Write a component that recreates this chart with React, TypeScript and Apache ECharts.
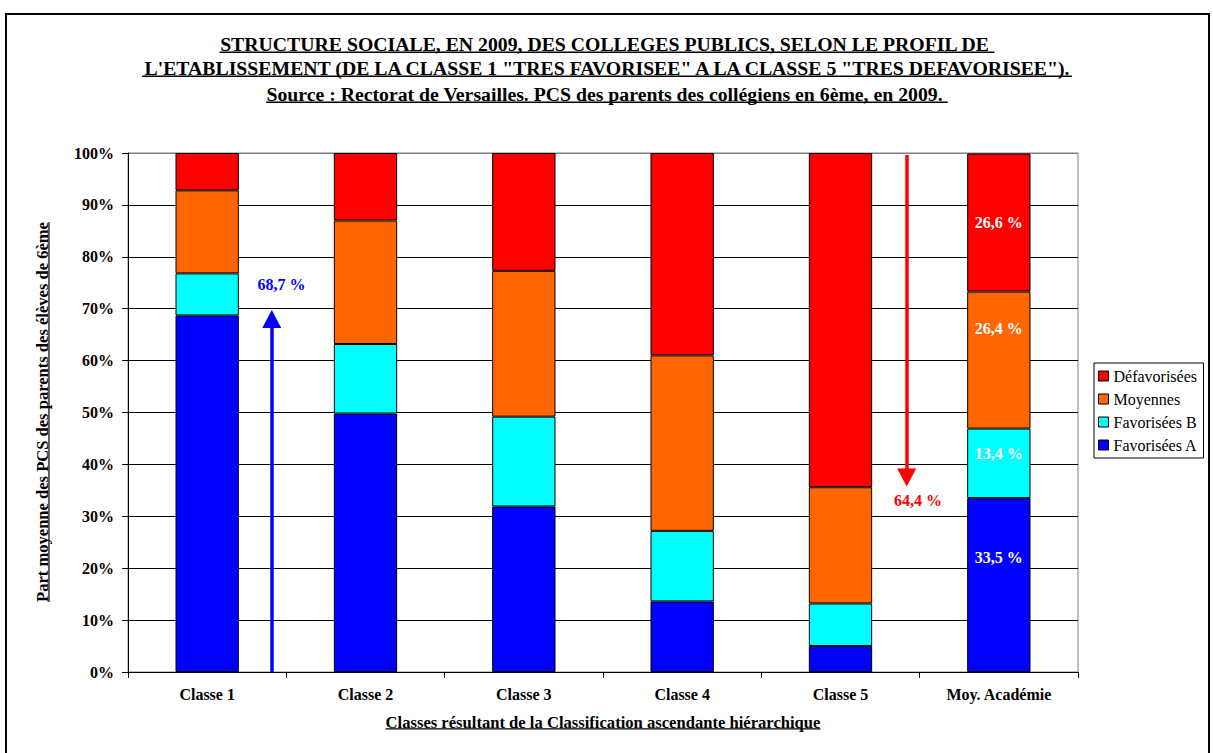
import React, { useEffect, useRef } from "react";
import * as echarts from "echarts";

const categories = ["Classe 1", "Classe 2", "Classe 3", "Classe 4", "Classe 5", "Moy. Académie"];
const seriesNames = ["Favorisées A", "Favorisées B", "Moyennes", "Défavorisées"];
const favA = [68.7, 49.8, 31.9, 13.6, 5.0, 33.5];
const favB = [8.1, 13.4, 17.3, 13.6, 8.2, 13.4];
const moyennes = [16.0, 23.8, 28.1, 33.8, 22.4, 26.4];
const defav = [7.2, 13.0, 22.7, 39.0, 64.4, 26.6];
const colors = ["#0000FF", "#00FFFF", "#FF6600", "#FF0000"];
const legendOrder = ["Défavorisées", "Moyennes", "Favorisées B", "Favorisées A"];

const titleLines = [
  "STRUCTURE SOCIALE, EN 2009, DES COLLEGES PUBLICS, SELON LE PROFIL DE ",
  "L'ETABLISSEMENT (DE LA CLASSE 1 \"TRES FAVORISEE\" A LA CLASSE 5 \"TRES DEFAVORISEE\").",
  "Source : Rectorat de Versailles. PCS des parents des collégiens en 6ème, en 2009. ",
];
const yAxisTitle = "Part moyenne des PCS des parents des élèves de 6ème";
const xAxisTitle = "Classes résultant de la Classification ascendante hiérarchique";

// annotation arrows (positions in category units 0..6 and percent)
const blueArrow = { x: 0.908, from: 0, to: 68.0 };
const redArrow = { x: 4.918, from: 99.6, to: 37.5 };
const blueLabelPos = [0.97, 74.6];
const redLabelPos = [4.99, 33.1];

const FONT = "'Liberation Serif', 'Times New Roman', serif";

const fmt = (v: number) => v.toFixed(1).replace(".", ",") + " %";

function measure(text: string, font: string) {
  const c = document.createElement("canvas").getContext("2d")!;
  c.font = font;
  return c.measureText(text).width;
}

export default function App() {
  const ref = useRef<HTMLDivElement>(null);
  useEffect(() => {
    if (!ref.current) return;
    const chart = echarts.init(ref.current, undefined, { renderer: "svg" });

    // title sizing
    const titleSize = (100 * 930) / measure(titleLines[1], `bold 100px ${FONT}`);
    const titleCenters = [44, 68, 94];
    const titleX = 607;
    const graphics: any[] = [];
    graphics.push({
      type: "rect",
      shape: { x: 6, y: 14, width: 1203, height: 800 },
      style: { fill: "none", stroke: "#000", lineWidth: 2 },
      silent: true,
    });
    titleLines.forEach((t, i) => {
      const w = measure(t, `bold ${titleSize}px ${FONT}`);
      graphics.push({
        type: "text",
        x: titleX,
        y: titleCenters[i],
        style: {
          text: t,
          fontSize: titleSize,
          fontWeight: "bold",
          fontFamily: FONT,
          fill: "#000",
          align: "center",
          verticalAlign: "middle",
        },
      });
      const uy = titleCenters[i] + titleSize * 0.42;
      graphics.push({
        type: "line",
        shape: { x1: titleX - w / 2, y1: uy, x2: titleX + w / 2, y2: uy },
        style: { stroke: "#000", lineWidth: 1.5 },
      });
    });

    // y axis title
    const ySize = (100 * 380) / measure(yAxisTitle, `bold 100px ${FONT}`);
    const yw = measure(yAxisTitle, `bold ${ySize}px ${FONT}`);
    graphics.push({
      type: "group",
      x: 42,
      y: 412,
      rotation: Math.PI / 2,
      children: [
        {
          type: "text",
          style: {
            text: yAxisTitle,
            fontSize: ySize,
            fontWeight: "bold",
            fontFamily: FONT,
            fill: "#000",
            align: "center",
            verticalAlign: "middle",
          },
        },
        {
          type: "line",
          shape: { x1: -yw / 2, y1: ySize * 0.42, x2: yw / 2, y2: ySize * 0.42 },
          style: { stroke: "#000", lineWidth: 1.2 },
        },
      ],
    });

    // x axis title
    const xSize = (100 * 435) / measure(xAxisTitle, `bold 100px ${FONT}`);
    const xw = measure(xAxisTitle, `bold ${xSize}px ${FONT}`);
    graphics.push({
      type: "text",
      x: 603,
      y: 722,
      style: {
        text: xAxisTitle,
        fontSize: xSize,
        fontWeight: "bold",
        fontFamily: FONT,
        fill: "#000",
        align: "center",
        verticalAlign: "middle",
      },
    });
    graphics.push({
      type: "line",
      shape: { x1: 603 - xw / 2, y1: 722 + xSize * 0.42, x2: 603 + xw / 2, y2: 722 + xSize * 0.42 },
      style: { stroke: "#000", lineWidth: 1.2 },
    });

    const labelOffsets = [-28, -10, -32, 0];
    const valueSets = [favA, favB, moyennes, defav];
    const barSeries = valueSets.map((vals, si) => ({
      name: seriesNames[si],
      type: "bar",
      stack: "total",
      barWidth: "40%",
      xAxisIndex: 0,
      yAxisIndex: 0,
      itemStyle: { color: colors[si], borderColor: "#000", borderWidth: 1 },
      label: {
        show: false,
        position: "inside",
        color: "#fff",
        fontWeight: "bold",
        fontSize: 16,
        fontFamily: FONT,
        formatter: (p: any) => fmt(p.value),
      },
      data: vals.map((v, i) =>
        i === vals.length - 1 ? { value: v, label: { show: true, offset: [0, labelOffsets[si]] } } : v
      ),
    }));

    const splitColors = Array.from({ length: 11 }, (_, i) => (i === 10 ? "#808080" : "#000"));

    chart.setOption({
      animation: false,
      backgroundColor: "#fff",
      grid: {
        left: 128,
        top: 153,
        right: 135,
        bottom: 81,
        show: true,
        borderColor: "#808080",
        borderWidth: 1,
        backgroundColor: "#fff",
      },
      legend: {
        orient: "vertical",
        left: 1094,
        top: 363,
        data: legendOrder,
        padding: [5, 6, 5, 4],
        itemWidth: 10,
        itemHeight: 10,
        itemGap: 7,
        borderColor: "#000",
        borderWidth: 1,
        backgroundColor: "#fff",
        itemStyle: { borderColor: "#000", borderWidth: 1 },
        textStyle: { fontSize: 16, fontFamily: FONT, color: "#000" },
        icon: "rect",
      },
      xAxis: [
        {
          type: "category",
          data: categories,
          axisLine: { lineStyle: { color: "#000", width: 1 } },
          axisTick: { show: true, length: 6, inside: false, lineStyle: { color: "#000" } },
          axisLabel: { fontSize: 16, fontWeight: "bold", fontFamily: FONT, color: "#000", margin: 14 },
          splitLine: { show: false },
        },
        { type: "value", min: 0, max: 6, show: false },
      ],
      yAxis: {
        type: "value",
        min: 0,
        max: 100,
        interval: 10,
        axisLine: { show: true, lineStyle: { color: "#000", width: 1 } },
        axisTick: { show: true, length: 6, lineStyle: { color: "#000" } },
        axisLabel: {
          formatter: "{value}%",
          fontSize: 16,
          fontWeight: "bold",
          fontFamily: FONT,
          color: "#000",
          margin: 14,
        },
        splitLine: { show: true, lineStyle: { color: splitColors, width: 1 } },
      },
      series: [
        ...barSeries,
        {
          name: "annotations",
          type: "scatter",
          xAxisIndex: 1,
          yAxisIndex: 0,
          symbolSize: 0,
          silent: true,
          itemStyle: { opacity: 1, color: "rgba(0,0,0,0)" },
          label: {
            show: true,
            position: "inside",
            fontWeight: "bold",
            fontSize: 16,
            fontFamily: FONT,
            opacity: 1,
            formatter: (p: any) => p.name,
          },
          data: [
            { name: fmt(favA[0]), value: blueLabelPos, label: { color: "#0000FF" } },
            { name: fmt(defav[4]), value: redLabelPos, label: { color: "#FF0000" } },
          ],
          markLine: {
            silent: true,
            symbol: ["none", "triangle"],
            symbolSize: [19, 18],
            label: { show: false },
            data: [
              [
                { coord: [blueArrow.x, blueArrow.from], lineStyle: { color: "#0000FF", width: 3.5, type: "solid", opacity: 1 } },
                { coord: [blueArrow.x, blueArrow.to] },
              ],
              [
                { coord: [redArrow.x, redArrow.from], lineStyle: { color: "#FF0000", width: 3.5, type: "solid", opacity: 1 } },
                { coord: [redArrow.x, redArrow.to] },
              ],
            ],
          },
        },
      ],
      graphic: graphics,
    });

    return () => chart.dispose();
  }, []);

  return (
    <div
      ref={ref}
      style={{ position: "fixed", left: 0, top: 0, width: 1213, height: 753, background: "#fff" }}
    />
  );
}
